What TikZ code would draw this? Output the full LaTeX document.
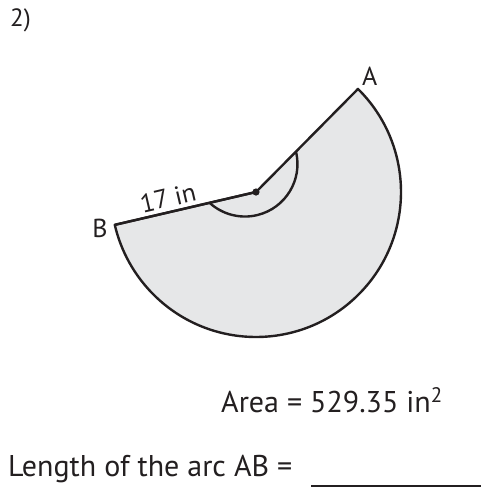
\documentclass[tikz,border=0pt]{standalone}
\usepackage{fontspec}
\setmainfont{PT Sans}
\usepackage{xcolor}
\usetikzlibrary{calc, positioning}
\definecolor{inkline}{HTML}{231F20}
\definecolor{sectorfill}{HTML}{E6E7E8}

\begin{document}
\begin{tikzpicture}[x=1pt, y=-1pt, line join=round,
    txt/.style={font=\fontsize{30}{34}\selectfont, text=inkline},
    lbl/.style={font=\fontsize{26}{30}\selectfont, text=inkline, inner sep=2pt},
    edge/.style={draw=inkline, line width=2.4pt}]
    \useasboundingbox (0,0) rectangle (481,488);

    % Sektor
    \coordinate (O) at (256,192);
    \coordinate (A) at ($(O)+(-45.3:145)$);
    \coordinate (B) at ($(O)+(166.9:145)$);
    \filldraw[edge, fill=sectorfill] (O) -- (A)
        arc[start angle=-45.3, end angle=166.9, radius=145] -- cycle;
    \draw[edge] (B) -- node[lbl, pos=0.4, above=2pt, sloped] {17 in} (O);

    % Winkelbogen
    \coordinate (mA) at ($(O)!0.392!(A)$);
    \draw[edge] (mA) arc[start angle=-13.7, end angle=132.4, radius=52.5];
    \fill[inkline] (O) circle[radius=3.6];

    % Beschriftung
    \node[lbl, above right=1pt and 2pt of A] {A};
    \node[lbl, left=5pt of B, yshift=-4pt] {B};
    \node[lbl, font=\fontsize{25}{28}\selectfont, anchor=north west, inner sep=0pt] (num) at (10,8) {2)};
    \node[txt, anchor=base west, inner sep=0pt] (area) at (221,412) {Area = 529.35 in\textsuperscript{2}};
    \node[txt, anchor=base west, inner sep=0pt] (len) at (8,476) {Length of the arc AB =};
    \coordinate (ansL) at (311,486);
    \coordinate (ansR) at (481,486);
    \draw[inkline, line width=2pt] (ansL) -- (ansR);
\end{tikzpicture}
\end{document}
